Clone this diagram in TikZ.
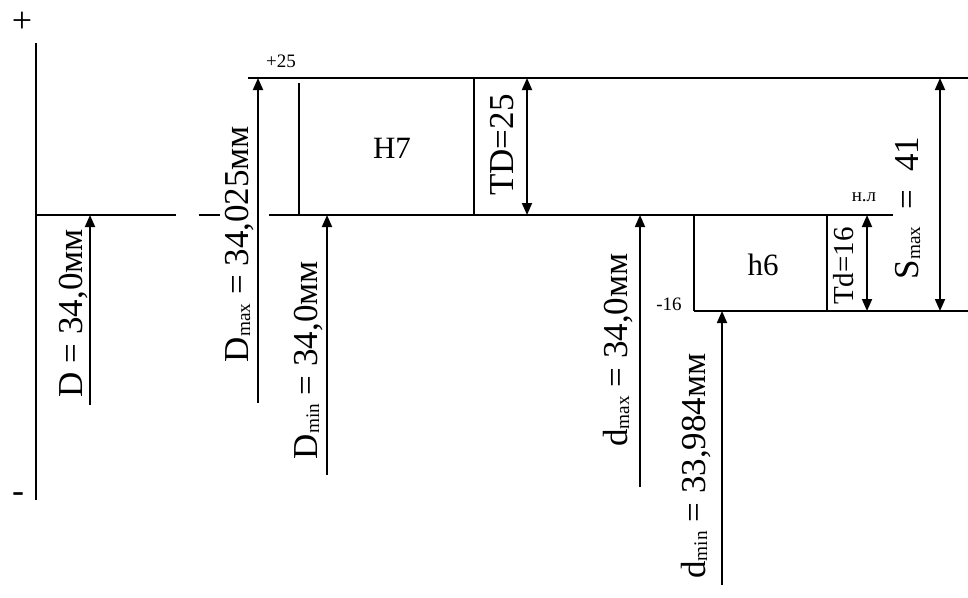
\documentclass[tikz,border=0pt]{standalone}
\usepackage{fontspec}
\setmainfont{Liberation Serif}
\usetikzlibrary{arrows.meta}
\newcommand\lsub[1]{\raisebox{-0.06em}{\fontsize{0.55em}{0.55em}\selectfont #1}}
\begin{document}
\begin{tikzpicture}[x=1pt,y=-1pt,
  mainline/.style={line width=2.6pt},
  sideline/.style={line width=1.8pt},
  dimarrow/.style={line width=1.8pt,-{Triangle[length=12pt,width=10pt]}},
  dimboth/.style={line width=1.8pt,{Triangle[length=12pt,width=10pt]}-{Triangle[length=12pt,width=10pt]}},
  biglabel/.style={font=\fontsize{35}{35}\selectfont, rotate=90, inner sep=0pt, anchor=base},
  boxlabel/.style={font=\fontsize{31}{31}\selectfont, inner sep=0pt},
  smalllabel/.style={font=\fontsize{19}{19}\selectfont, inner sep=0pt}]
\useasboundingbox (0,0) rectangle (968,597);
% signs
\node[font=\fontsize{36}{36}\selectfont, inner sep=0pt] (plus) at (22,22) {+};
\node[font=\fontsize{36}{36}\selectfont, inner sep=0pt] (minus) at (18,498) {-};
% axis
\coordinate (axT) at (36,43);
\coordinate (axB) at (36,500);
\draw[sideline] (axT) -- (axB);
% zero line
\coordinate (z0) at (36,215);
\coordinate (z1) at (176,215);
\coordinate (z2) at (199,215);
\coordinate (z3) at (220,215);
\coordinate (z4) at (269,215);
\coordinate (z5) at (893,215);
\draw[mainline] (z0) -- (z1);
\draw[mainline] (z2) -- (z3);
\draw[mainline] (z4) -- (z5);
% top line
\coordinate (t0) at (248,78);
\coordinate (t1) at (968,78);
\draw[mainline] (t0) -- (t1);
% H7 box
\coordinate (h7a) at (299,83);
\coordinate (h7b) at (299,215);
\coordinate (h7c) at (474,78);
\coordinate (h7d) at (474,215);
\draw[sideline] (h7a) -- (h7b);
\draw[sideline] (h7c) -- (h7d);
\node[boxlabel] (H7) at (392,148) {H7};
% h6 box
\coordinate (s0) at (694,215);
\coordinate (s1) at (694,311);
\coordinate (s2) at (827,311);
\coordinate (s3) at (827,215);
\coordinate (s4) at (968,311);
\draw[sideline] (s0) -- (s1);
\draw[sideline] (s2) -- (s3);
\draw[mainline] (s1) -- (s4);
\node[boxlabel] (h6) at (763,265) {h6};
% small labels
\node[smalllabel] (p25) at (281,61) {+25};
\node[smalllabel] (m16) at (669,304) {-16};
\node[smalllabel] (nl) at (864,197) {н.л};
% D
\coordinate (Da) at (90,405); \coordinate (Db) at (90,215);
\draw[dimarrow] (Da) -- (Db);
\node[biglabel] (Dl) at (82,313) {D = 34,0мм};
% Dmax
\coordinate (Dxa) at (258,403); \coordinate (Dxb) at (258,78);
\draw[dimarrow] (Dxa) -- (Dxb);
\node[biglabel] (Dxl) at (248,244) {D\lsub{max} = 34,025мм};
% Dmin
\coordinate (Dna) at (327,475); \coordinate (Dnb) at (327,215);
\draw[dimarrow] (Dna) -- (Dnb);
\node[biglabel] (Dnl) at (317,360) {D\lsub{min} = 34,0мм};
% TD
\coordinate (TDa) at (527,78); \coordinate (TDb) at (527,215);
\draw[dimboth] (TDa) -- (TDb);
\node[biglabel] (TDl) at (513,145) {TD=25};
% dmax
\coordinate (dxa) at (640,487); \coordinate (dxb) at (640,215);
\draw[dimarrow] (dxa) -- (dxb);
\node[biglabel] (dxl) at (627,350) {d\lsub{max} = 34,0мм};
% dmin
\coordinate (dna) at (722,585); \coordinate (dnb) at (722,311);
\draw[dimarrow] (dna) -- (dnb);
\node[biglabel] (dnl) at (705,466) {d\lsub{min} = 33,984мм};
% Td
\coordinate (Tda) at (867,215); \coordinate (Tdb) at (867,311);
\draw[dimboth] (Tda) -- (Tdb);
\node[biglabel, font=\fontsize{29}{29}\selectfont] (Tdl) at (853,266) {Td=16};
% Smax
\coordinate (Sa) at (940,78); \coordinate (Sb) at (940,311);
\draw[dimboth] (Sa) -- (Sb);
\node[biglabel] (Sl) at (918,208) {S\lsub{max}\ \ =\ \ 41};
\end{tikzpicture}
\end{document}
